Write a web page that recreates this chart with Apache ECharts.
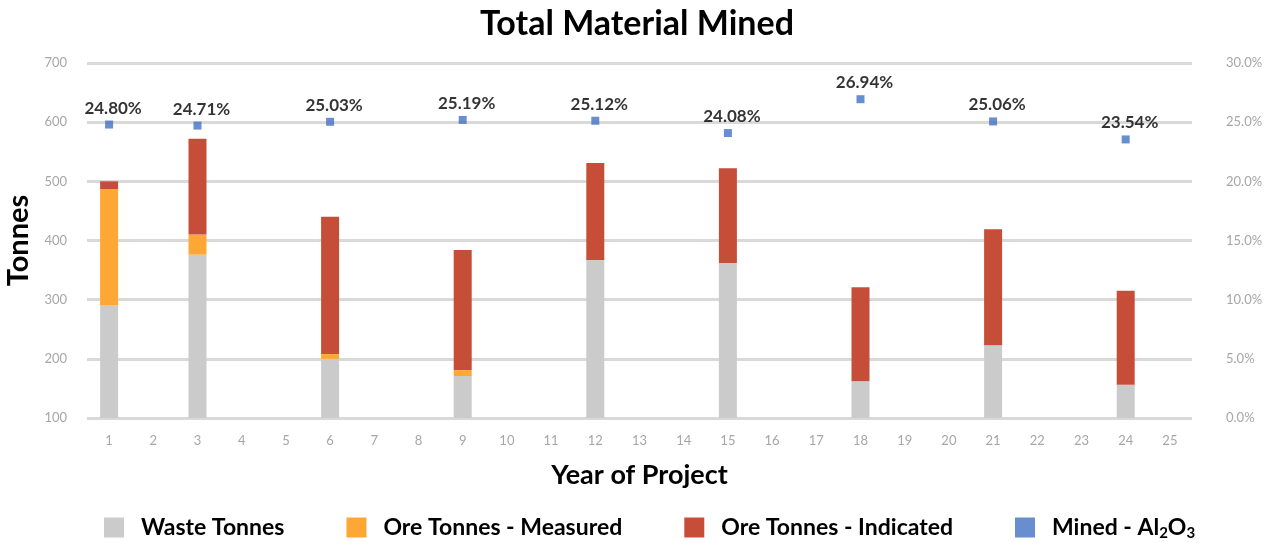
<!DOCTYPE html>
<html>
<head>
<meta charset="utf-8">
<script src="https://cdn.jsdelivr.net/npm/echarts@6/dist/echarts.min.js"></script>
<style>
  html, body { margin: 0; padding: 0; background: #fff; }
  #chart { width: 1274px; height: 543px; }
</style>
</head>
<body>
<div id="chart"></div>
<script>
// years 1..25 on the axis, data only on some of them
const categories = ['1','2','3','4','5','6','7','8','9','10','11','12','13','14','15','16','17','18','19','20','21','22','23','24','25']
const dataYears = [1, 3, 6, 9, 12, 15, 18, 21, 24]
const wasteTonnes = [290, 376, 200, 171, 367, 362, 162, 223, 156]
const measuredTonnes = [197, 34, 8, 10, 0, 0, 0, 0, 0]
const indicatedTonnes = [13, 162, 232, 203, 164, 160, 159, 196, 159]
const minedAl2O3 = [24.80, 24.71, 25.03, 25.19, 25.12, 24.08, 26.94, 25.06, 23.54]

// spread the values over the 25 year slots
function toSlots(values) {
  let out = categories.map(() => null)
  dataYears.forEach((y, i) => {
    out[y - 1] = values[i]
  })
  return out
}

const font = 'Lato, "DejaVu Sans", sans-serif'
let myChart = echarts.init(document.getElementById('chart'))
let option = {
  animation: false,
  textStyle: { fontFamily: font },
  title: {
    text: 'Total Material Mined',
    left: 'center',
    top: 2,
    textStyle: { fontSize: 34, fontWeight: 'bold', color: '#000', fontFamily: font },
  },
  grid: {
    left: 87,
    right: 82,
    top: 63,
    bottom: 125,
    containLabel: false,
    outerBoundsMode: 'none',
  },
  legend: {
    top: 511,
    left: 99,
    itemWidth: 20,
    itemHeight: 20,
    itemGap: 62,
    icon: 'rect',
    textStyle: {
      fontSize: 23,
      fontWeight: 'bold',
      color: '#000',
      padding: [0, 0, 0, 12],
      rich: {
        sub: { fontSize: 15, fontWeight: 'bold', color: '#000', verticalAlign: 'bottom', padding: [12, 0, 0, 0] },
      },
    },
    formatter: (name) => {
      if (name === 'Mined - Al2O3') return 'Mined - Al{sub|2}O{sub|3}'
      return name
    },
    data: ['Waste Tonnes', 'Ore Tonnes - Measured', 'Ore Tonnes - Indicated', 'Mined - Al2O3'],
  },
  xAxis: {
    type: 'category',
    data: categories,
    name: 'Year of Project',
    nameLocation: 'middle',
    nameGap: 44,
    nameTextStyle: { fontSize: 27, fontWeight: 'bold', color: '#000' },
    axisLine: { show: false },
    axisTick: { show: false },
    axisLabel: { color: '#a6a6a6', fontSize: 13, margin: 16 },
  },
  yAxis: [
    {
      type: 'value',
      min: 100,
      max: 700,
      interval: 100,
      name: 'Tonnes',
      nameLocation: 'middle',
      nameGap: 52,
      nameTextStyle: { fontSize: 29, fontWeight: 'bold', color: '#000' },
      axisLine: { show: false },
      axisTick: { show: false },
      axisLabel: { color: '#a6a6a6', fontSize: 13, margin: 20 },
      splitLine: { lineStyle: { color: '#d9d9d9', width: 3 } },
    },
    {
      type: 'value',
      min: 0,
      max: 30,
      interval: 5,
      axisLine: { show: false },
      axisTick: { show: false },
      axisLabel: {
        color: '#a6a6a6',
        fontSize: 13,
        margin: 34,
        formatter: (v) => v.toFixed(1) + '%',
      },
      splitLine: { show: false },
    },
  ],
  series: [
    {
      name: 'Waste Tonnes',
      type: 'bar',
      stack: 'total',
      barWidth: 18,
      itemStyle: { color: '#cbcbcb' },
      data: toSlots(wasteTonnes),
    },
    {
      name: 'Ore Tonnes - Measured',
      type: 'bar',
      stack: 'total',
      barWidth: 18,
      itemStyle: { color: '#fda834' },
      data: toSlots(measuredTonnes),
    },
    {
      name: 'Ore Tonnes - Indicated',
      type: 'bar',
      stack: 'total',
      barWidth: 18,
      itemStyle: { color: '#c64e38' },
      data: toSlots(indicatedTonnes),
    },
    {
      name: 'Mined - Al2O3',
      type: 'scatter',
      yAxisIndex: 1,
      symbol: 'rect',
      symbolSize: 8,
      itemStyle: { color: '#4472c4' },
      label: {
        show: true,
        position: 'top',
        distance: 4,
        offset: [4, 0],
        fontSize: 17,
        fontWeight: 'bold',
        color: '#000',
        formatter: (p) => p.value.toFixed(2) + '%',
      },
      data: toSlots(minedAl2O3),
    },
  ],
}
myChart.setOption(option, true)
window.addEventListener('resize', () => {
  myChart.resize()
})
</script>
</body>
</html>
